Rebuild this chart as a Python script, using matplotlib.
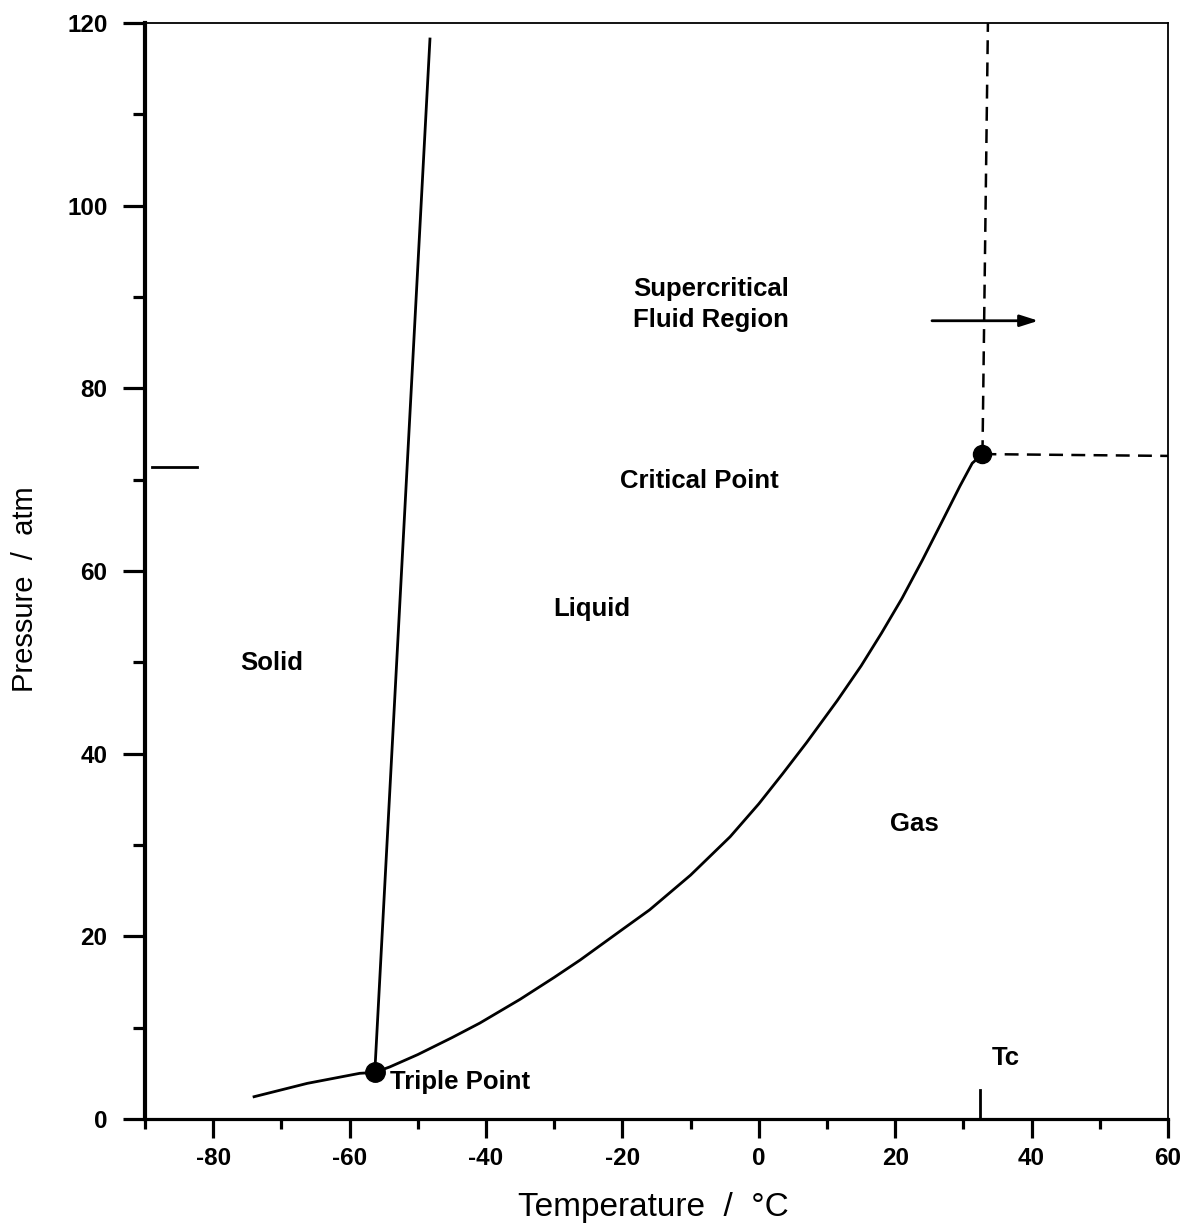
import matplotlib
matplotlib.use("Agg")
import matplotlib.pyplot as plt
from matplotlib.ticker import MultipleLocator

plt.rcParams["axes.unicode_minus"] = False
plt.rcParams["lines.scale_dashes"] = False
plt.rcParams["font.family"] = ["Liberation Sans", "DejaVu Sans"]

# CO2 phase boundaries (temperature in deg C, pressure in atm)
sub_T = [-74.2, -66.2, -58.5, -56.3]
sub_P = [2.4, 3.9, 5.0, 5.1]

melt_T = [-56.3, -48.2]
melt_P = [5.1, 118.4]

vap_T = [-56.3, -54.1, -50.0, -45.0, -40.9, -35.0, -30.0, -26.2, -20.0, -16.0,
         -10.0, -4.2, 0.0, 3.5, 7.0, 11.5, 15.0, 18.0, 21.0, 24.0, 27.0, 29.5,
         31.3, 32.8]
vap_P = [5.1, 5.7, 7.05, 8.9, 10.5, 13.1, 15.5, 17.4, 20.75, 22.9,
         26.7, 30.9, 34.5, 37.8, 41.2, 45.8, 49.6, 53.2, 57.0, 61.2, 65.6, 69.3,
         71.8, 72.8]

triple_point = (-56.3, 5.1)
critical_point = (32.8, 72.8)
Tc = 32.4

x_ticks = [-80, -60, -40, -20, 0, 20, 40, 60]
y_ticks = [0, 20, 40, 60, 80, 100, 120]

fig = plt.figure(figsize=(11.94, 12.24), dpi=100)
ax = fig.add_axes([0.1214, 0.0858, 0.9782 - 0.1214, 0.9812 - 0.0858])
ax.set_xlim(-90, 60)
ax.set_ylim(0, 120)

# spines: heavy left/bottom, light top/right
ax.spines["left"].set_linewidth(3.0)
ax.spines["bottom"].set_linewidth(2.3)
ax.spines["top"].set_linewidth(1.3)
ax.spines["right"].set_linewidth(1.3)

ax.xaxis.set_minor_locator(MultipleLocator(10))
ax.yaxis.set_minor_locator(MultipleLocator(10))
ax.set_xticks(x_ticks)
ax.set_yticks(y_ticks)
ax.set_xticklabels([str(v) for v in x_ticks])
ax.set_yticklabels([str(v) for v in y_ticks])

ax.tick_params(axis="x", which="major", direction="out", length=13.5, width=2.3,
               pad=7, labelsize=17.5)
ax.tick_params(axis="x", which="minor", direction="out", length=7.5, width=2.3)
ax.tick_params(axis="y", which="major", direction="out", length=16, width=2.3,
               pad=11, labelsize=17.5)
ax.tick_params(axis="y", which="minor", direction="out", length=8.5, width=2.3)
for lab in ax.get_xticklabels() + ax.get_yticklabels():
    lab.set_fontweight("bold")

ax.set_xlabel("Temperature  /  \u00b0C", fontsize=24, va="center")
ax.xaxis.set_label_coords(0.497, -0.081)
ax.set_ylabel("Pressure  /  atm", fontsize=21, va="center")
ax.yaxis.set_label_coords(-0.117, 0.483)

line_kw = dict(color="black", lw=2.0, solid_capstyle="butt", solid_joinstyle="round")
ax.plot(sub_T, sub_P, **line_kw)
ax.plot(melt_T, melt_P, **line_kw)
ax.plot(vap_T, vap_P, **line_kw)

# dashed boundaries of the supercritical region
ax.plot([critical_point[0], 33.6], [critical_point[1], 120], color="black",
        lw=1.8, dashes=(10, 6))
ax.plot([critical_point[0], 60], [critical_point[1], 72.6], color="black",
        lw=1.8, dashes=(10, 6))

ax.plot(*triple_point, "o", color="black", ms=14)
ax.plot(*critical_point, "o", color="black", ms=13)

# Tc marker on the temperature axis
ax.plot([Tc, Tc], [0, 3.2], color="black", lw=2.0)
# short reference mark at the critical pressure
ax.plot([-89.0, -82.3], [71.4, 71.4], color="black", lw=2.0)

ax.annotate("", xy=(41.0, 87.4), xytext=(25.4, 87.4),
            arrowprops=dict(arrowstyle="-|>,head_length=1.1,head_width=0.35",
                            color="black", lw=2.0, shrinkA=0, shrinkB=0))

txt_kw = dict(fontsize=18.5, fontweight="bold", color="black")
ax.text(-18.4, 89.2, "Supercritical\nFluid Region", ha="left", va="center",
        linespacing=1.4, **txt_kw)
ax.text(-20.4, 69.9, "Critical Point", ha="left", va="center", **txt_kw)
ax.text(-24.5, 55.8, "Liquid", ha="center", va="center", **txt_kw)
ax.text(-71.4, 49.9, "Solid", ha="center", va="center", **txt_kw)
ax.text(22.8, 32.3, "Gas", ha="center", va="center", **txt_kw)
ax.text(-54.1, 4.0, "Triple Point", ha="left", va="center", **txt_kw)
ax.text(36.2, 6.7, "Tc", ha="center", va="center", **txt_kw)

fig.savefig("out.png", dpi=100)
